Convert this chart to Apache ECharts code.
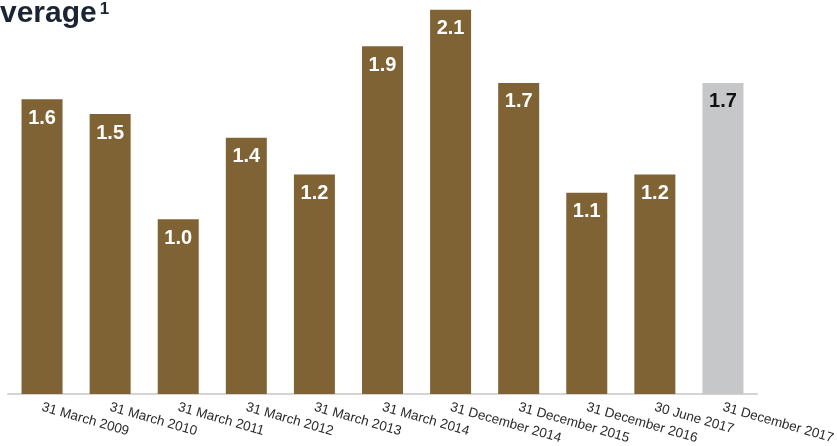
<!DOCTYPE html>
<html><head><meta charset="utf-8">
<script src="https://cdn.jsdelivr.net/npm/echarts@6/dist/echarts.min.js"></script>
<style>html,body{margin:0;padding:0;background:#fff}#c{width:837px;height:446px}</style>
</head><body><div id="c"></div>
<script>
const categories = ['31 March 2009','31 March 2010','31 March 2011','31 March 2012','31 March 2013','31 March 2014','31 December 2014','31 December 2015','31 December 2016','30 June 2017','31 December 2017'];
const values = [1.61, 1.53, 0.955, 1.40, 1.20, 1.90, 2.10, 1.70, 1.10, 1.20, 1.70];
const highlightIndex = 10;
const titleText = 'Leverage';
const titleNote = '1';

const FONT = '"Liberation Sans", Arial, sans-serif';
const mctx = document.createElement('canvas').getContext('2d');
mctx.font = 'bold 30px ' + FONT;
const wLe = mctx.measureText('Le').width;
const wAll = mctx.measureText(titleText).width;
const tx = -wLe;

const chart = echarts.init(document.getElementById('c'));
chart.setOption({
  animation: false,
  graphic: [
    { type: 'text', x: tx, y: -1, style: { text: titleText, font: 'bold 30px ' + FONT, fill: '#1c2333' } },
    { type: 'text', x: tx + wAll + 3, y: 1, style: { text: titleNote, font: 'bold 17px ' + FONT, fill: '#1c2333' } }
  ],
  grid: { left: 8, right: 80, top: 9.7, bottom: 52, containLabel: false, outerBoundsMode: 'none' },
  xAxis: {
    type: 'category', data: categories,
    axisLine: { lineStyle: { color: '#d4d4d4', width: 2 } },
    axisTick: { show: false },
    axisLabel: { interval: 0, rotate: -16, margin: 13, fontFamily: FONT, fontSize: 13.5, color: '#2a2a2a' }
  },
  yAxis: { type: 'value', min: 0, max: 2.1, show: false, splitLine: { show: false } },
  series: [{
    type: 'bar', barWidth: 41,
    data: values.map((v, i) => ({
      value: v,
      itemStyle: { color: i === highlightIndex ? '#c5c7c9' : '#7f6334' },
      label: { color: i === highlightIndex ? '#111' : '#fff' }
    })),
    label: {
      show: true, position: 'insideTop', distance: 9,
      fontFamily: FONT, fontWeight: 'bold', fontSize: 20,
      formatter: p => p.value.toFixed(1)
    }
  }]
});
</script></body></html>
